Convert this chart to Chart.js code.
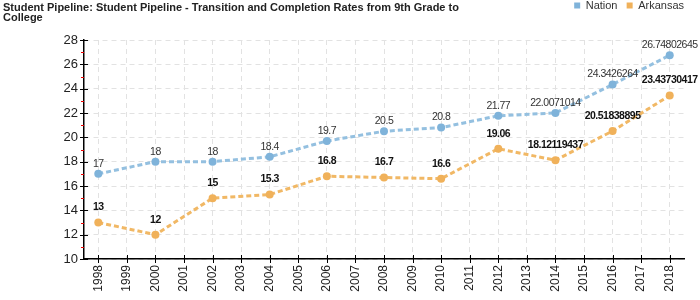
<!DOCTYPE html>
<html>
<head>
<meta charset="utf-8">
<script src="https://cdn.jsdelivr.net/npm/chart.js@4.4.1/dist/chart.umd.min.js"></script>
<style>
  html, body { margin: 0; padding: 0; background: #fff; }
  #wrap { width: 700px; height: 300px; position: relative; }
</style>
</head>
<body>
<div id="wrap"><canvas id="chart"></canvas></div>
<script>
var years = ["1998","1999","2000","2001","2002","2003","2004","2005","2006","2007","2008",
             "2009","2010","2011","2012","2013","2014","2015","2016","2017","2018"];
var nation = [17, null, 18, null, 18, null, 18.4, null, 19.7, null, 20.5,
              null, 20.8, null, 21.77, null, 22.0071014, null, 24.3426264, null, 26.74802645];
var arkansas = [13, null, 12, null, 15, null, 15.3, null, 16.8, null, 16.7,
                null, 16.6, null, 19.06, null, 18.12119437, null, 20.51838895, null, 23.43730417];
var titleLines = ["Student Pipeline: Student Pipeline - Transition and Completion Rates from 9th Grade to", "College"];

var FONT = "'Liberation Sans', Arial, sans-serif";

// title text in the top left corner, plus room under the legend row
var titlePlugin = {
    id: 'titleText',
    beforeLayout: function(chart) {
        var lg = chart.legend;
        if (lg && !lg._patched) {
            var fit = lg.fit;
            lg.fit = function() {
                fit.call(this);
                this.height += 19;
            };
            lg._patched = true;
        }
    },
    afterDraw: function(chart) {
        var ctx = chart.ctx;
        ctx.save();
        ctx.font = "bold 11px " + FONT;
        ctx.fillStyle = "#222";
        ctx.textBaseline = "alphabetic";
        ctx.fillText(titleLines[0], 3, 11);
        ctx.fillText(titleLines[1], 3, 21);
        ctx.restore();
    }
};

// value labels above points
var labelPlugin = {
    id: 'valueLabels',
    afterDatasetsDraw: function(chart) {
        var ctx = chart.ctx;
        ctx.save();
        ctx.textAlign = "center";
        ctx.textBaseline = "middle";
        ctx.letterSpacing = "-0.5px";
        chart.data.datasets.forEach(function(ds, i) {
            var meta = chart.getDatasetMeta(i);
            meta.data.forEach(function(pt, j) {
                var v = ds.data[j];
                if (v === null) return;
                if (i === 0) {
                    ctx.font = "10.5px " + FONT;
                    ctx.fillStyle = "#333";
                    ctx.fillText(String(v), pt.x, pt.y - 10);
                } else {
                    ctx.font = "bold 10.5px " + FONT;
                    ctx.fillStyle = "#111";
                    ctx.fillText(String(v), pt.x, pt.y - 15);
                }
            });
        });
        ctx.restore();
    }
};

// tick marks crossing the axes, red minor ticks on y
var ticksPlugin = {
    id: 'axisTicks',
    afterDraw: function(chart) {
        var ctx = chart.ctx;
        var y = chart.scales.y, x = chart.scales.x;
        var area = chart.chartArea;
        ctx.save();
        ctx.lineWidth = 1;
        for (var v = 10; v <= 28; v++) {
            var py = Math.round(y.getPixelForValue(v)) + 0.5;
            ctx.beginPath();
            if (v % 2 === 0) {
                ctx.strokeStyle = "#000";
                ctx.moveTo(area.left - 4, py);
                ctx.lineTo(area.left + 4, py);
            } else {
                ctx.strokeStyle = "#e00";
                ctx.moveTo(area.left - 3, py);
                ctx.lineTo(area.left, py);
            }
            ctx.stroke();
        }
        ctx.strokeStyle = "#000";
        for (var k = 0; k < years.length; k++) {
            var px = Math.round(x.getPixelForValue(k)) + 0.5;
            ctx.beginPath();
            ctx.moveTo(px, area.bottom - 4);
            ctx.lineTo(px, area.bottom + 4);
            ctx.stroke();
        }
        ctx.restore();
    }
};

var ctx = document.getElementById("chart");
var chart = new Chart(ctx, {
    type: 'line',
    data: {
        labels: years,
        datasets: [{
            label: "Nation",
            data: nation,
            borderColor: "#94c0e0",
            backgroundColor: "#7fb3da",
            pointBackgroundColor: "#7fb3da",
            pointBorderWidth: 0,
            borderWidth: 3,
            borderDash: [5, 3],
            pointRadius: 4,
            spanGaps: true,
            tension: 0
        }, {
            label: "Arkansas",
            data: arkansas,
            borderColor: "#f1b865",
            backgroundColor: "#f0b15a",
            pointBackgroundColor: "#f0b15a",
            pointBorderWidth: 0,
            borderWidth: 3,
            borderDash: [5, 3],
            pointRadius: 4,
            spanGaps: true,
            tension: 0
        }]
    },
    options: {
        responsive: true,
        maintainAspectRatio: false,
        animation: false,
        layout: { padding: { top: 0, right: 16, bottom: 0, left: 0 } },
        plugins: {
            legend: {
                display: true,
                position: 'top',
                align: 'end',
                labels: {
                    boxWidth: 6,
                    boxHeight: 6,
                    padding: 0,
                    color: "#333",
                    font: { family: FONT, size: 11 },
                    generateLabels: function(chart) {
                        var n = chart.data.datasets.length;
                        return chart.data.datasets.map(function(ds, i) {
                            return {
                                text: i < n - 1 ? ds.label + "   " : ds.label,
                                fillStyle: ds.backgroundColor,
                                strokeStyle: ds.backgroundColor,
                                lineWidth: 0,
                                fontColor: "#333",
                                hidden: false,
                                datasetIndex: i
                            };
                        });
                    }
                }
            },
            title: { display: false },
            tooltip: { enabled: false }
        },
        scales: {
            x: {
                offset: true,
                grid: { display: true, offset: false, color: "#e2e2e2", drawTicks: false },
                border: { display: true, color: "#000", width: 1.5, dash: [5, 4] },
                ticks: {
                    autoSkip: false,
                    maxRotation: 90,
                    minRotation: 90,
                    padding: 6,
                    color: "#222",
                    font: { family: FONT, size: 12 }
                },
                afterFit: function(scale) { scale.height = 41; }
            },
            y: {
                min: 10,
                max: 28,
                grid: { color: "#e2e2e2", drawTicks: false },
                border: { display: true, color: "#000", width: 1.5, dash: [5, 4] },
                ticks: {
                    stepSize: 2,
                    padding: 6,
                    color: "#222",
                    font: { family: FONT, size: 13 }
                },
                afterFit: function(scale) { scale.width = 84; }
            }
        }
    },
    plugins: [titlePlugin, labelPlugin, ticksPlugin]
});
</script>
</body>
</html>
